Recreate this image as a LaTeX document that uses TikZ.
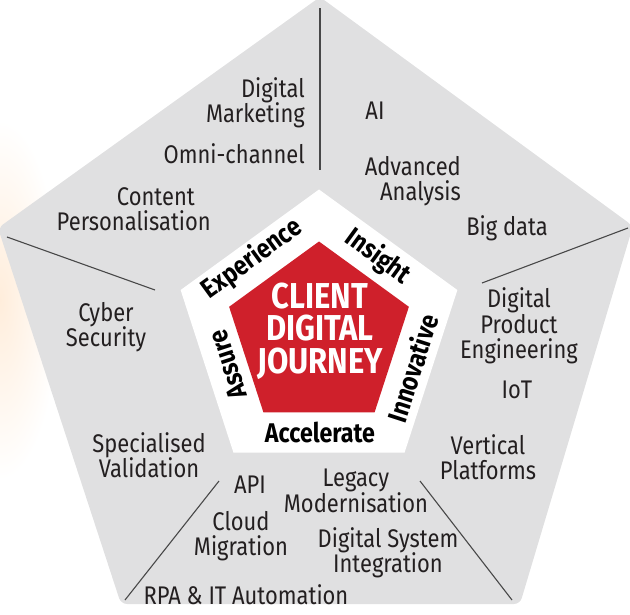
\documentclass[tikz,border=0pt]{standalone}
\usepackage{fontspec}
\setmainfont{Fira Sans}[FakeStretch=0.86]
\usetikzlibrary{positioning, shapes.geometric}

\definecolor{panelgrey}{RGB}{224,224,225}
\definecolor{journeyred}{RGB}{207,32,43}
\definecolor{inkgrey}{RGB}{35,31,32}
\definecolor{rulegrey}{RGB}{72,72,72}

\tikzset{
    item/.style={align=center, text=inkgrey, inner sep=0pt,
        font=\fontsize{25.5}{25.5}\selectfont},
    pillar/.style={text=black, inner sep=0pt,
        font=\bfseries\fontsize{27}{28}\selectfont},
    penta/.style={regular polygon, regular polygon sides=5, inner sep=0pt},
    divider/.style={rulegrey, line width=1.1pt}
}

\begin{document}
\begin{tikzpicture}[x=1pt, y=-1pt]
    \useasboundingbox (0,0) rectangle (630,615);
    % faint glow on the left
    \shade[inner color=orange!14, outer color=white] (0,300) ellipse (60 and 180);
    % outer panel
    \coordinate (oT) at (320,-3);
    \coordinate (oR) at (633,226);
    \coordinate (oBR) at (520,604);
    \coordinate (oBL) at (121,604);
    \coordinate (oL) at (-2,228);
    \fill[panelgrey, rounded corners=6pt] (oT) -- (oR) -- (oBR) -- (oBL) -- (oL) -- cycle;

    % dividers
    \coordinate (d1a) at (320,170); \coordinate (d1b) at (320,8);
    \coordinate (d2a) at (155,290); \coordinate (d2b) at (7,237);
    \coordinate (d3a) at (482,283); \coordinate (d3b) at (628,228);
    \coordinate (d4a) at (219,481); \coordinate (d4b) at (125,600);
    \coordinate (d5a) at (420,481); \coordinate (d5b) at (512,600);
    \foreach \i in {1,...,5} {
        \draw[divider] (d\i a) -- (d\i b);
    }

    % centre
    \node[penta, fill=white, minimum size=291pt] (frame) at (319,335) {};
    \node[penta, fill=journeyred, minimum size=189pt] (core) at (319,336) {};
    \node[align=center, text=white, inner sep=0pt,
        font=\bfseries\fontsize{36}{32.5}\selectfont] (title) at (320,331)
        {CLIENT\\DIGITAL\\JOURNEY};

    \node[pillar, rotate=36] (exp) at (252,259) {Experience};
    \node[pillar, rotate=-36] (ins) at (378,257) {Insight};
    \node[pillar, rotate=72] (inn) at (412,368) {Innovative};
    \node[pillar] (acc) at (320,432) {Accelerate};
    \node[pillar, rotate=108] (ass) at (228,365) {Assure};

    % offerings
    \node[item, align=right, anchor=east] (mkt) at (305,103) {Digital\\Marketing};
    \node[item, anchor=east] (omni) at (305,154) {Omni-channel};
    \node[item, align=right, anchor=east] (cont) at (211,209) {Content\hspace*{16pt}\\Personalisation};
    \node[item] (ai) at (375,111) {AI};
    \node[item, align=right, anchor=east] (adv) at (461,181) {Advanced\\Analysis};
    \node[item] (big) at (507,228) {Big data};
    \node[item] (dpe) at (519,326) {Digital\\Product\\Engineering};
    \node[item] (iot) at (517,390) {IoT};
    \node[item] (vert) at (488,457) {Vertical\\Platforms};
    \node[item] (cyber) at (106,327) {Cyber\\Security};
    \node[item] (spec) at (149,455) {Specialised\\Validation};
    \node[item] (api) at (250,485) {API};
    \node[item] (cloud) at (241,536) {Cloud\\Migration};
    \node[item] (legacy) at (356,491) {Legacy\\Modernisation};
    \node[item] (dsi) at (388,553) {Digital System\\Integration};
    \node[item] (rpa) at (246,595) {RPA \& IT Automation};
\end{tikzpicture}
\end{document}
